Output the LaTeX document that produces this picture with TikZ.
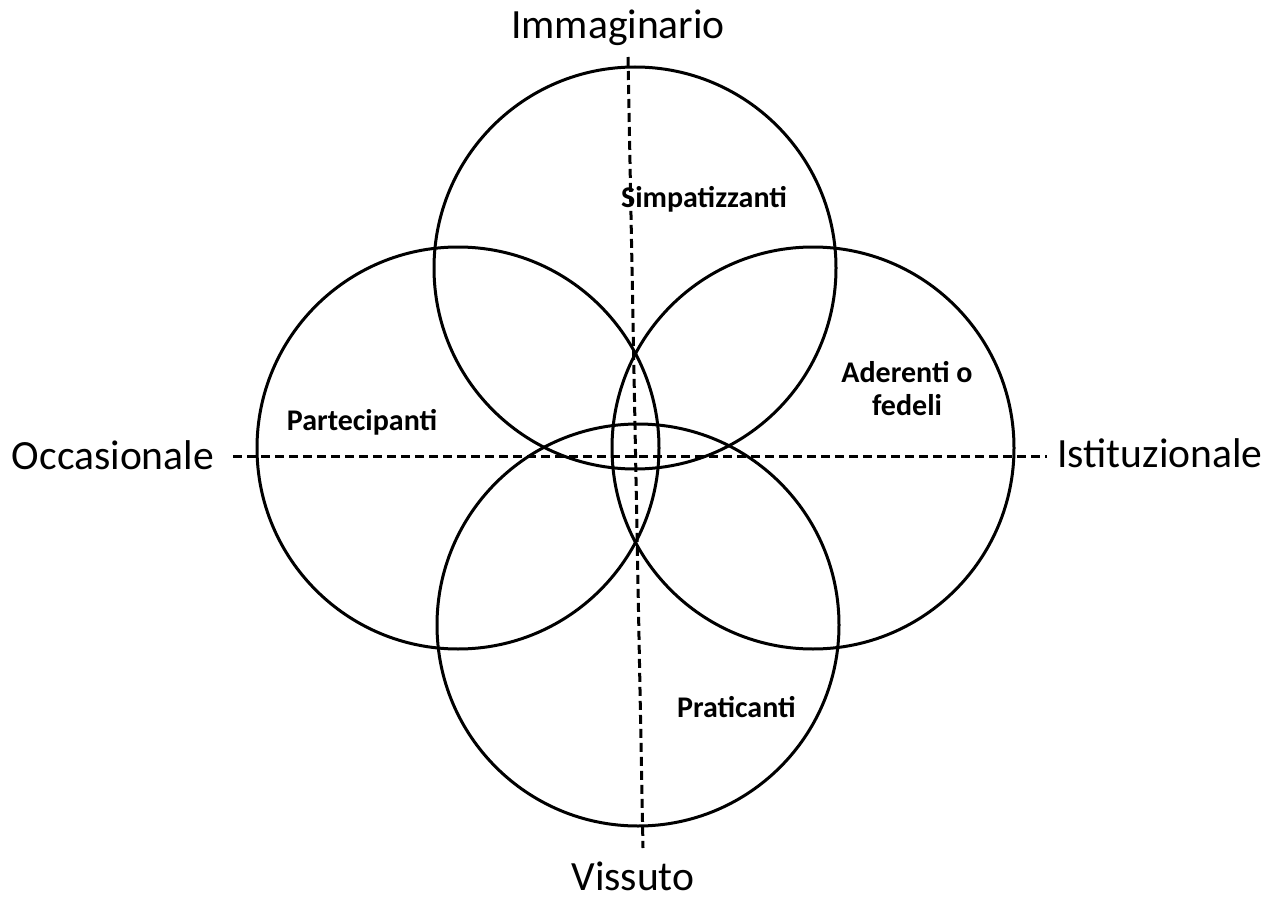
\documentclass[tikz,border=0pt]{standalone}
\usepackage{fontspec}
\setmainfont{Carlito}

\begin{document}
\begin{tikzpicture}[x=0.5pt,y=-0.5pt,ring/.style={line width=1.5pt},axisline/.style={line width=1.5pt,dash pattern=on 4.5pt off 2.5pt},pole/.style={font=\fontsize{20.8}{25}\selectfont,anchor=base,inner sep=1pt},group/.style={font=\fontsize{15}{16.5}\selectfont\bfseries,anchor=base,align=center}]
\useasboundingbox (0,0) rectangle (1280,899);
% centres of the four circles
\coordinate (Csim) at (635,268); \coordinate (Cpra) at (638,625); \coordinate (Cpar) at (458,448); \coordinate (Cade) at (813,448);
\foreach \c in {Csim,Cpra,Cpar,Cade} \draw[ring] (\c) circle (201);
% the two axes
\coordinate (top) at (628,57); \coordinate (bot) at (643,848); \coordinate (lft) at (233,456); \coordinate (rgt) at (1047,456);
\draw[axisline] (top)--(bot); \draw[axisline] (lft)--(rgt);
\node[pole] (imm) at (618,39) {Immaginario}; \node[pole] (vis) at (633,890) {Vissuto};
\node[pole] (occ) at (113,469) {Occasionale}; \node[pole] (ist) at (1160,467) {Istituzionale};
\node[group] (sim) at (704,207) {Simpatizzanti}; \node[group] (par) at (362,430) {Partecipanti};
\node[group,anchor=base west] (pra) at (670,717) {Praticanti}; \node[group] (ade) at (907,415) {Aderenti o\\fedeli};
\end{tikzpicture}
\end{document}
